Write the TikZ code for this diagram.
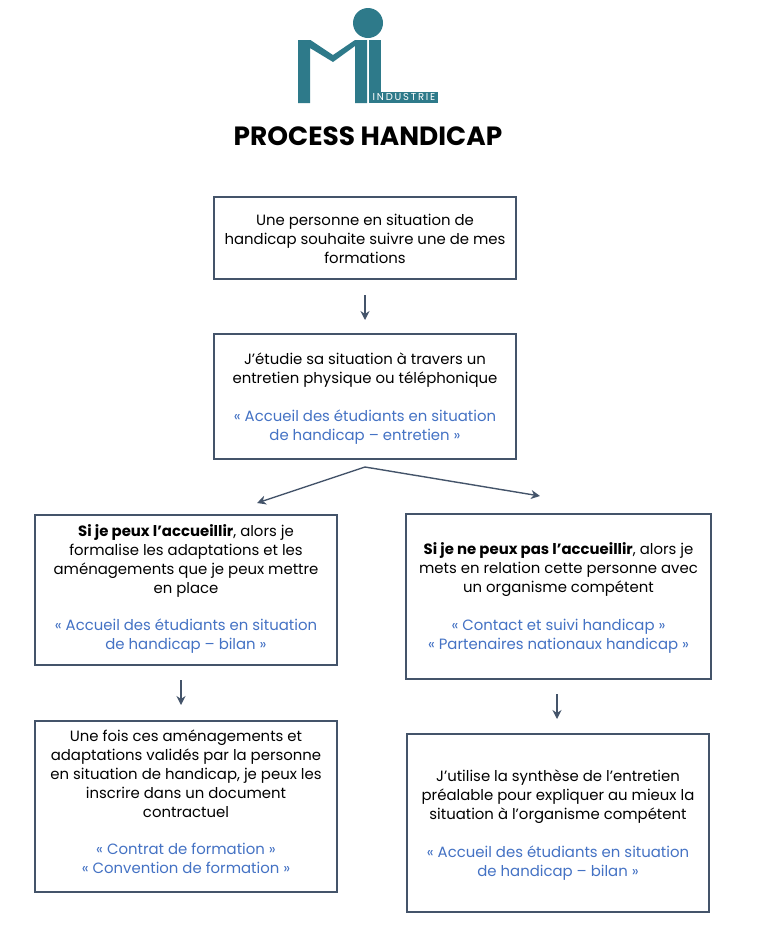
\documentclass[tikz,border=0pt]{standalone}
\usepackage{fontspec}
\setmainfont{Poppins}
\usepackage{tikz}
\usetikzlibrary{
  arrows.meta,
  positioning,
  calc
}
\definecolor{logo_teal}{RGB}{46, 122, 138}
\definecolor{frame_slate}{RGB}{68, 84, 106}
\definecolor{link_blue}{RGB}{68, 114, 196}

\begin{document}
\begin{tikzpicture}[
    x=1pt,
    y=1pt,
    % Styles
    font=\fontsize{14.9}{19}\selectfont,
    >={Stealth[length=9pt,width=9pt]},
    % Blocks
    box/.style={
        rectangle,
        draw=frame_slate,
        fill=white,
        line width=2pt,
        inner sep=0pt,
        align=center
    },
    flow/.style={
        ->,
        draw=frame_slate,
        line width=1.4pt
    },
    logo_part/.style={
        fill=logo_teal,
        draw=none
    }
]

% --- PAGE ---
\useasboundingbox (0,0) rectangle (761,-943);

% --- LOGO ---
\path[logo_part] (298,-40) -- (310.5,-40) -- (333,-55) -- (355,-40) -- (355,-103) -- (367,-103) -- (367,-40) -- (355,-40)
    -- (355,-46) -- (333,-62) -- (310,-48) -- (310,-103) -- (298,-103) -- cycle;
\path[logo_part] (369,-40) rectangle (381,-92);
\path[logo_part] (369,-92) rectangle (438,-103);
\path[logo_part] (368,-23) circle (15);
\node[text=white, font=\fontsize{10}{10}\selectfont\addfontfeature{LetterSpace=18}, inner sep=0pt] (logo_text) at (404,-97.5) {INDUSTRIE};

% --- TITLE ---
\node[font=\bfseries\fontsize{26.4}{30}\selectfont, inner sep=0pt] (title) at (368,-136) {PROCESS HANDICAP};

% --- LAYOUT ---

% 1. Request
\node[box, minimum width=302pt, minimum height=82pt] (request) at (365,-238) {
    \rule{0pt}{13pt}Une personne en situation de\\
    handicap souhaite suivre une de mes\\
    formations
};

% 2. Interview
\node[box, minimum width=302pt, minimum height=125pt] (interview) at (365,-396.5) {
    \rule{0pt}{15pt}J'étudie sa situation à travers un\\
    entretien physique ou téléphonique\\[19pt]
    \textcolor{link_blue}{« Accueil des étudiants en situation}\\
    \textcolor{link_blue}{de handicap – entretien »}
};

% 3. Left branch
\node[box, minimum width=302pt, minimum height=150pt] (can_host) at (186,-590) {
    \textbf{Si je peux l'accueillir}, alors je\\
    formalise les adaptations et les\\
    aménagements que je peux mettre\\
    en place\\[18pt]
    \textcolor{link_blue}{« Accueil des étudiants en situation}\\
    \textcolor{link_blue}{de handicap – bilan »}\\[-13pt]
};

% 4. Right branch
\node[box, minimum width=305pt, minimum height=165pt] (cannot_host) at (558.5,-596.5) {
    \rule{0pt}{15pt}\textbf{Si je ne peux pas l'accueillir}, alors je\\
    mets en relation cette personne avec\\
    un organisme compétent\\[19pt]
    \textcolor{link_blue}{« Contact et suivi handicap »}\\
    \textcolor{link_blue}{« Partenaires nationaux handicap »}
};

% 5. Contract
\node[box, minimum width=302pt, minimum height=171pt] (contract) at (186,-806.5) {
    Une fois ces aménagements et\\
    adaptations validés par la personne\\
    en situation de handicap, je peux les\\
    inscrire dans un document\\
    contractuel\\[18pt]
    \textcolor{link_blue}{« Contrat de formation »}\\
    \textcolor{link_blue}{« Convention de formation »}\\[-9pt]
};

% 6. Referral
\node[box, minimum width=302pt, minimum height=178pt] (referral) at (558,-823) {
    \rule{0pt}{16pt}J'utilise la synthèse de l'entretien\\
    préalable pour expliquer au mieux la\\
    situation à l'organisme compétent\\[19pt]
    \textcolor{link_blue}{« Accueil des étudiants en situation}\\
    \textcolor{link_blue}{de handicap – bilan »}
};

% --- ARROWS ---
\draw[flow] ([yshift=-15pt]request.south) -- ([yshift=13pt]interview.north);

\coordinate (fork) at ([yshift=-7pt]interview.south);
\coordinate (fork_left) at (257,-503);
\coordinate (fork_right) at (540,-496);
\draw[flow] (fork) -- (fork_left);
\draw[flow] (fork) -- (fork_right);

\draw[flow] ([xshift=-5pt,yshift=-14pt]can_host.south) -- ([xshift=-5pt,yshift=15pt]contract.north);
\draw[flow] ([xshift=-1.5pt,yshift=-14pt]cannot_host.south) -- ([xshift=-1pt,yshift=14pt]referral.north);

\end{tikzpicture}
\end{document}
